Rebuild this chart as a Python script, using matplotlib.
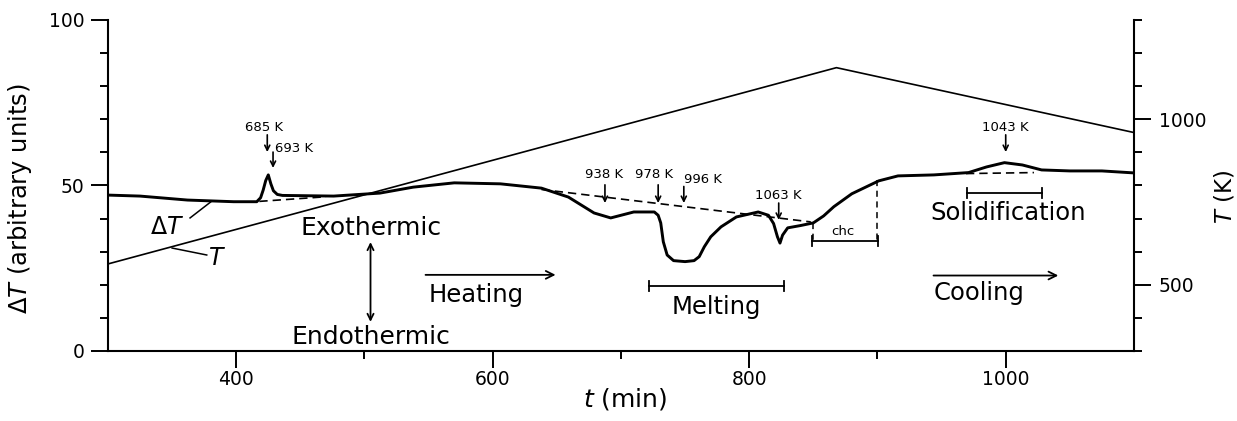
import matplotlib
matplotlib.use("Agg")
import matplotlib.pyplot as plt
from matplotlib.ticker import MultipleLocator, FixedLocator

# ---------------- data ----------------
# Differential temperature curve (arbitrary units) vs time (min)
dt_time = [300, 325, 362, 398, 416, 419, 421, 423, 425, 427, 429, 432, 436,
           476, 512, 538, 570, 606, 638, 659, 679, 692, 710, 726, 729, 731,
           733, 736, 741, 750, 757, 761, 765, 770, 778, 790, 807, 815, 819,
           822, 824, 826, 830, 840, 850, 858, 866, 880, 901, 916, 944, 971,
           985, 999, 1013, 1028, 1050, 1075, 1100]
dt_value = [47.1, 46.8, 45.6, 45.1, 45.1, 46.3, 48.6, 51.5, 53.2, 50.5, 48.4, 47.3, 47.0,
            46.8, 47.7, 49.5, 50.8, 50.5, 49.2, 46.5, 41.7, 40.2, 42.0, 42.0, 41.0, 38.7,
            33.0, 29.0, 27.3, 27.0, 27.3, 28.5, 31.5, 34.5, 37.5, 40.5, 42.0, 41.0, 38.5,
            34.5, 32.6, 35.0, 37.2, 37.9, 38.7, 40.8, 43.6, 47.5, 51.4, 52.9, 53.2, 53.9,
            55.6, 56.9, 56.2, 54.7, 54.4, 54.4, 53.8]

# Sample temperature T (K) vs time (min)
T_time = [300, 868, 1100]
T_kelvin = [563, 1156, 960]

# Dashed baselines (time pairs, DeltaT pairs)
base_time = [[418, 470], [638, 848], [969, 1022]]
base_value = [[45.2, 46.6], [48.8, 39.0], [53.6, 53.9]]

# Temperature annotations: label, text position (t, y), arrow x, arrow y-from, arrow y-to
ann_labels = ["685 K", "693 K", "938 K", "978 K", "996 K", "1063 K", "1043 K"]
ann_text_t = [421.5, 430.5, 686.7, 725.8, 764.0, 822.4, 1000.0]
ann_text_y = [67.4, 61.3, 53.2, 53.2, 51.7, 47.1, 67.4]
ann_arrow_t = [424.2, 428.7, 687.5, 729.0, 749.0, 823.0, 1000.0]
ann_arrow_y0 = [65.3, 60.1, 50.2, 50.2, 49.7, 44.7, 65.3]
ann_arrow_y1 = [60.1, 55.3, 44.7, 44.7, 44.7, 39.6, 60.1]
ann_ha = ["center", "left", "center", "center", "center", "center", "center"]

# Range brackets: label, t-start, t-end, bracket y, text (t, y)
br_labels = ["Melting", "Solidification", "chc"]
br_t0 = [722, 969.5, 849]
br_t1 = [827, 1028, 900.5]
br_y = [19.7, 47.8, 33.3]
br_text_t = [774, 1002, 873]
br_text_y = [13.3, 41.7, 36.0]

x_ticks_major = [400, 600, 800, 1000]
y_ticks_major = [0, 50, 100]
T_ticks_major = [500, 1000]

# ---------------- figure ----------------
plt.rcParams['font.family'] = ['DejaVu Sans']
plt.rcParams['mathtext.fontset'] = 'dejavusans'

fig = plt.figure(figsize=(12.37, 4.21), dpi=100)
ax = fig.add_axes([0.0873, 0.1663, 0.8294, 0.7862])
ax2 = ax.twinx()

lw_sp = 1.5
for a in (ax, ax2):
    a.spines['top'].set_visible(False)
ax.spines['right'].set_visible(False)
ax2.spines['left'].set_visible(False)
ax2.spines['bottom'].set_visible(False)
for s in ['left', 'bottom']:
    ax.spines[s].set_linewidth(lw_sp)
ax2.spines['right'].set_linewidth(lw_sp)

ax.set_xlim(300, 1100)
ax.set_ylim(0, 100)
ax2.set_ylim(300, 1300)

ax.xaxis.set_major_locator(FixedLocator(x_ticks_major))
ax.xaxis.set_minor_locator(FixedLocator([500, 700, 900]))
ax.yaxis.set_major_locator(FixedLocator(y_ticks_major))
ax.yaxis.set_minor_locator(MultipleLocator(10))
ax2.yaxis.set_major_locator(FixedLocator(T_ticks_major))
ax2.yaxis.set_minor_locator(MultipleLocator(100))

ax.tick_params(axis='both', which='major', length=12, width=1.4, labelsize=13.5)
ax.tick_params(axis='both', which='minor', length=6, width=1.4)
ax.tick_params(axis='x', which='major', pad=2)
ax.tick_params(axis='y', which='major', pad=5)
ax2.tick_params(axis='y', which='major', length=12, width=1.4, labelsize=13.5, pad=6)
ax2.tick_params(axis='y', which='minor', length=6, width=1.4)

# curves
ax.plot(dt_time, dt_value, color='black', lw=2.1, solid_capstyle='round',
        solid_joinstyle='round', zorder=3)
ax2.plot(T_time, T_kelvin, color='black', lw=1.2, zorder=3)

for bt, bv in zip(base_time, base_value):
    ax.plot(bt, bv, color='black', lw=1.2, ls=(0, (5, 3)), zorder=2)

# temperature annotations
for lab, tx, ty, at, ay0, ay1, ha in zip(ann_labels, ann_text_t, ann_text_y, ann_arrow_t,
                                         ann_arrow_y0, ann_arrow_y1, ann_ha):
    ax.text(tx, ty, lab, fontsize=9.5, ha=ha, va='center')
    ax.annotate('', xy=(at, ay1), xytext=(at, ay0),
                arrowprops=dict(arrowstyle='->', lw=1.2, color='black',
                                mutation_scale=9, shrinkA=0, shrinkB=0))

# brackets
for lab, t0, t1, y, tt, ty in zip(br_labels, br_t0, br_t1, br_y, br_text_t, br_text_y):
    ax.plot([t0, t1], [y, y], color='black', lw=1.3)
    ax.plot([t0, t0], [y - 1.5, y + 1.5], color='black', lw=1.3)
    ax.plot([t1, t1], [y - 1.5, y + 1.5], color='black', lw=1.3)
    ax.text(tt, ty, lab, fontsize=17.5 if lab != 'chc' else 9.5, ha='center', va='center')

# chc dashed verticals
ax.plot([850, 850], [38.7, 32.6], color='black', lw=1.1, ls=(0, (4, 3)))
ax.plot([900, 900], [51.7, 32.6], color='black', lw=1.1, ls=(0, (4, 3)))

# curve labels with leader lines
ax.text(346, 37.5, r'$\Delta T$', fontsize=17, ha='center', va='center')
ax.plot([364, 380], [40.2, 45.0], color='black', lw=1.1)
ax.text(385, 28.0, r'$T$', fontsize=17, ha='center', va='center')
ax.plot([377, 350], [29.0, 31.1], color='black', lw=1.1)

# exo/endo
ax.text(505, 37.2, 'Exothermic', fontsize=18, ha='center', va='center')
ax.text(505, 4.2, 'Endothermic', fontsize=18, ha='center', va='center')
ax.annotate('', xy=(504.7, 32.9), xytext=(504.7, 8.8),
            arrowprops=dict(arrowstyle='<->', lw=1.3, color='black',
                            mutation_scale=11, shrinkA=0, shrinkB=0))

# heating / cooling
ax.annotate('', xy=(649, 23.0), xytext=(547.6, 23.0),
            arrowprops=dict(arrowstyle='->', lw=1.3, color='black',
                            mutation_scale=14, shrinkA=0, shrinkB=0))
ax.text(550, 16.9, 'Heating', fontsize=17.5, ha='left', va='center')
ax.annotate('', xy=(1041, 22.8), xytext=(943.7, 22.8),
            arrowprops=dict(arrowstyle='->', lw=1.3, color='black',
                            mutation_scale=14, shrinkA=0, shrinkB=0))
ax.text(944, 17.5, 'Cooling', fontsize=17.5, ha='left', va='center')

# axis labels
ax.set_ylabel(r'$\Delta T$ (arbitrary units)', fontsize=17.5)
ax.yaxis.set_label_coords(-0.072, 0.46)
ax2.set_ylabel(r'$T$ (K)', fontsize=16.5)
ax2.yaxis.set_label_coords(1.077, 0.465)
ax.set_xlabel(r'$t$ (min)', fontsize=18)
ax.xaxis.set_label_coords(0.504, -0.105)

fig.savefig('out.png', dpi=100)
